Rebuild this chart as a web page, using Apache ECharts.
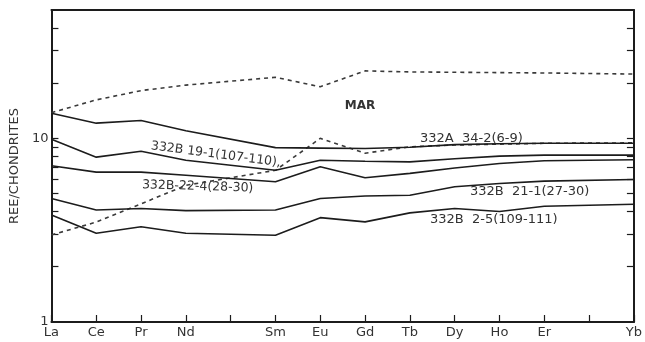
<!DOCTYPE html>
<html>
<head>
<meta charset="utf-8">
<script src="https://cdn.jsdelivr.net/npm/echarts@6/dist/echarts.min.js"></script>
<style>
html,body{margin:0;padding:0;background:#fff;}
#chart{width:645px;height:342px;}
</style>
</head>
<body>
<div id="chart"></div>
<script>
// Elements (Pm and Tm are unlabeled ticks)
var categories = ['La','Ce','Pr','Nd','Pm','Sm','Eu','Gd','Tb','Dy','Ho','Er','Tm','Yb'];
var xTickLabels = ['La','Ce','Pr','Nd','','Sm','Eu','Gd','Tb','Dy','Ho','Er','','Yb'];
var yLabelValues = [1, 10];
var yTickValues = [2,3,4,5,6,7,8,9,10,20,30,40];

// MAR envelope (dashed)
var marUpper = [13.8, 16.2, 18.2, 19.5, null, 21.5, 19.1, 23.3, 23.0, 22.9, 22.8, 22.7, null, 22.4];
var marLower = [2.98, 3.5, 4.4, 5.55, null, 6.7, 10.0, 8.3, 9.0, 9.2, 9.3, 9.4, null, 9.45];

// Samples (solid)
var s332A_34_2 = [13.7, 12.1, 12.5, 11.0, null, 8.9, 8.85, 8.8, 8.95, 9.25, 9.35, 9.4, null, 9.4];
var s332B_19_1 = [9.9, 7.9, 8.5, 7.6, null, 6.7, 7.6, 7.5, 7.45, 7.75, 8.0, 8.1, null, 8.1];
var s332B_22_4 = [7.1, 6.55, 6.55, 6.3, null, 5.8, 7.0, 6.1, 6.45, 6.9, 7.3, 7.55, null, 7.65];
var s332B_21_1 = [4.7, 4.07, 4.15, 4.04, null, 4.07, 4.7, 4.85, 4.9, 5.45, 5.68, 5.85, null, 5.97];
var s332B_2_5  = [3.82, 3.04, 3.3, 3.04, null, 2.97, 3.7, 3.51, 3.93, 4.15, 4.0, 4.27, null, 4.38];

var FONT = '"DejaVu Sans", sans-serif';
var INK = '#1c1c1c';
var TXT = '#333';

function solid(name, data) {
  return {name: name, type: 'line', data: data, connectNulls: true, symbol: 'none',
    lineStyle: {color: INK, width: 1.6}, z: 3};
}
function dashed(name, data) {
  return {name: name, type: 'line', data: data, connectNulls: true, symbol: 'none',
    lineStyle: {color: '#3a3a3a', width: 1.6, type: [4, 4]}, z: 2};
}

var chart = echarts.init(document.getElementById('chart'), null, {renderer: 'canvas'});
var yBase = {
  type: 'log', logBase: 10, min: 1, max: 50,
  splitLine: {show: false}, minorTick: {show: false}, minorSplitLine: {show: false},
  axisLine: {show: true, lineStyle: {color: INK, width: 2}},
  axisTick: {show: true, inside: true, length: 7, customValues: yTickValues, lineStyle: {color: INK, width: 1.2}}
};
chart.setOption({
  animation: false,
  backgroundColor: '#fff',
  grid: {left: 49, right: 6, top: 10, bottom: 20, containLabel: false},
  xAxis: [{
    type: 'category', data: categories, boundaryGap: false, position: 'bottom',
    axisLine: {show: true, lineStyle: {color: INK, width: 2}},
    axisTick: {show: true, inside: true, length: 7, lineStyle: {color: INK, width: 1.2}},
    axisLabel: {show: true, interval: 0, margin: 4, color: TXT, fontFamily: FONT, fontSize: 13,
      formatter: function (v, i) { return xTickLabels[i]; }},
    splitLine: {show: false}
  }, {
    type: 'category', data: categories, boundaryGap: false, position: 'top',
    axisLine: {show: true, lineStyle: {color: INK, width: 2}},
    axisTick: {show: false}, axisLabel: {show: false}, splitLine: {show: false}
  }],
  yAxis: [Object.assign({}, yBase, {
    position: 'left',
    name: 'REE/CHONDRITES', nameLocation: 'middle', nameGap: 30, nameRotate: 90,
    nameTextStyle: {color: TXT, fontFamily: FONT, fontSize: 13},
    axisLabel: {show: true, customValues: yLabelValues, margin: 3, color: TXT, fontFamily: FONT, fontSize: 13}
  }), Object.assign({}, yBase, {
    position: 'right',
    axisLabel: {show: false}
  })],
  series: [
    dashed('MAR upper', marUpper),
    dashed('MAR lower', marLower),
    solid('332A 34-2(6-9)', s332A_34_2),
    solid('332B 19-1(107-110)', s332B_19_1),
    solid('332B-22-4(28-30)', s332B_22_4),
    solid('332B 21-1(27-30)', s332B_21_1),
    solid('332B 2-5(109-111)', s332B_2_5)
  ],
  graphic: [
    {type: 'text', x: 360, y: 106, style: {text: 'MAR', font: 'bold 12px ' + FONT, fill: TXT, textAlign: 'center', textVerticalAlign: 'middle'}},
    {type: 'text', x: 151, y: 146, rotation: -0.13, style: {text: '332B 19-1(107-110),', font: '12.5px ' + FONT, fill: TXT, textAlign: 'left', textVerticalAlign: 'middle'}},
    {type: 'text', x: 142, y: 185, rotation: -0.03, style: {text: '332B-22-4(28-30)', font: '12.5px ' + FONT, fill: TXT, textAlign: 'left', textVerticalAlign: 'middle'}},
    {type: 'text', x: 420, y: 139, style: {text: '332A  34-2(6-9)', font: '13px ' + FONT, fill: TXT, textAlign: 'left', textVerticalAlign: 'middle'}},
    {type: 'text', x: 470, y: 192, style: {text: '332B  21-1(27-30)', font: '13px ' + FONT, fill: TXT, textAlign: 'left', textVerticalAlign: 'middle'}},
    {type: 'text', x: 430, y: 220, style: {text: '332B  2-5(109-111)', font: '13px ' + FONT, fill: TXT, textAlign: 'left', textVerticalAlign: 'middle'}}
  ]
});
</script>
</body>
</html>
